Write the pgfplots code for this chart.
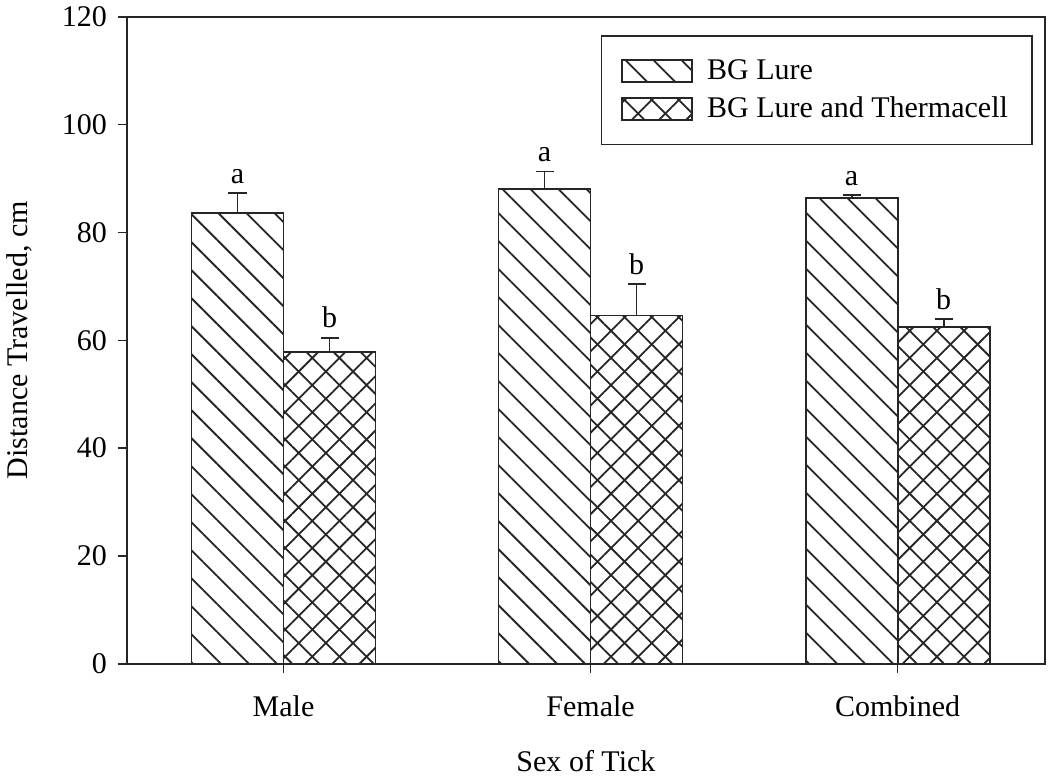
\documentclass[border=0pt]{standalone}
\usepackage{pgfplots}
\pgfplotsset{compat=1.18}
\usepackage{pgfplotstable}
\usepackage{fontspec}
\setmainfont{Liberation Serif}
\usetikzlibrary{patterns.meta}
\tikzset{
  bgpat/.style={pattern={Lines[angle=-45,distance=9.9pt,line width=0.9pt]},pattern color=black!85},
  thpat/.style={pattern={Lines[angle=-45,distance=9.6pt,line width=0.9pt]},postaction={pattern={Lines[angle=45,distance=9.6pt,line width=0.9pt]},pattern color=black!85},pattern color=black!85},
}
\pgfplotstableread{
x y err lab
0 83.6 3.7 a
1 88.1 3.2 a
2 86.4 0.6 a
}\bglure
\pgfplotstableread{
x y err lab
0 57.9 2.6 b
1 64.6 5.9 b
2 62.5 1.5 b
}\bgthermo
\begin{document}
\begin{tikzpicture}
\begin{axis}[
  scale only axis,
  width=459pt, height=323.5pt,
  ymin=0, ymax=120,
  xmin=-0.51, xmax=2.48,
  ytick={0,20,...,120},
  xtick={0,1,2},
  xticklabels={Male,Female,Combined},
  tick align=outside,
  major tick length=4.5pt,
  ytick pos=left, xtick pos=bottom,
  tick style={black!85, line width=0.8pt},
  axis line style={black!85, line width=0.8pt},
  /pgf/number format/assume math mode=true,
  tick label style={font=\fontsize{15}{17}\selectfont},
  yticklabel style={xshift=-2pt},
  xticklabel style={yshift=-8pt},
  label style={font=\fontsize{15}{17}\selectfont},
  ylabel={Distance Travelled, cm},
  ylabel style={yshift=8pt},
  xlabel={Sex of Tick},
  xlabel style={yshift=-10pt},
  ybar=0pt, bar width=46pt,
  legend style={at={(axis cs:2.44,116.6)}, anchor=north east, draw=black!85, line width=0.8pt,
    font=\fontsize{15}{17}\selectfont, inner xsep=10pt, inner ysep=10pt, row sep=3pt,
    cells={anchor=west}, /tikz/every odd column/.append style={column sep=5pt}},
  legend image code/.code={\draw[#1, line width=0.9pt] (0pt,-5.5pt) rectangle (35pt,5.5pt);},
  legend cell align=left,
  after end axis/.code={\path (rel axis cs:1,0) ++(5pt,0);},
]
\addplot+[draw=black!85, line width=0.9pt, bgpat,
  error bars/.cd, y dir=plus, y explicit,
  error mark=-, error mark options={mark size=4.5pt, line width=0.9pt, black!85, rotate=90},
  error bar style={line width=0.9pt, black!85}]
  table[x=x, y=y, y error=err] {\bglure};
\addplot+[draw=black!85, line width=0.9pt, thpat,
  error bars/.cd, y dir=plus, y explicit,
  error mark=-, error mark options={mark size=4.5pt, line width=0.9pt, black!85, rotate=90},
  error bar style={line width=0.9pt, black!85}]
  table[x=x, y=y, y error=err] {\bgthermo};
\addplot[draw=none, fill=none, forget plot, bar shift=-23pt,
  nodes near coords, point meta=explicit symbolic,
  visualization depends on={\thisrow{err}\as\myerr},
  nodes near coords style={font=\fontsize{15}{17}\selectfont, anchor=south, inner sep=1pt, yshift=3.5pt, shift={(axis direction cs:0,\myerr)}}]
  table[x=x, y=y, meta=lab] {\bglure};
\addplot[draw=none, fill=none, forget plot, bar shift=23pt,
  nodes near coords, point meta=explicit symbolic,
  visualization depends on={\thisrow{err}\as\myerr},
  nodes near coords style={font=\fontsize{15}{17}\selectfont, anchor=south, inner sep=1pt, yshift=3.5pt, shift={(axis direction cs:0,\myerr)}}]
  table[x=x, y=y, meta=lab] {\bgthermo};
\legend{BG Lure, BG Lure and Thermacell}
\end{axis}
\end{tikzpicture}
\end{document}
